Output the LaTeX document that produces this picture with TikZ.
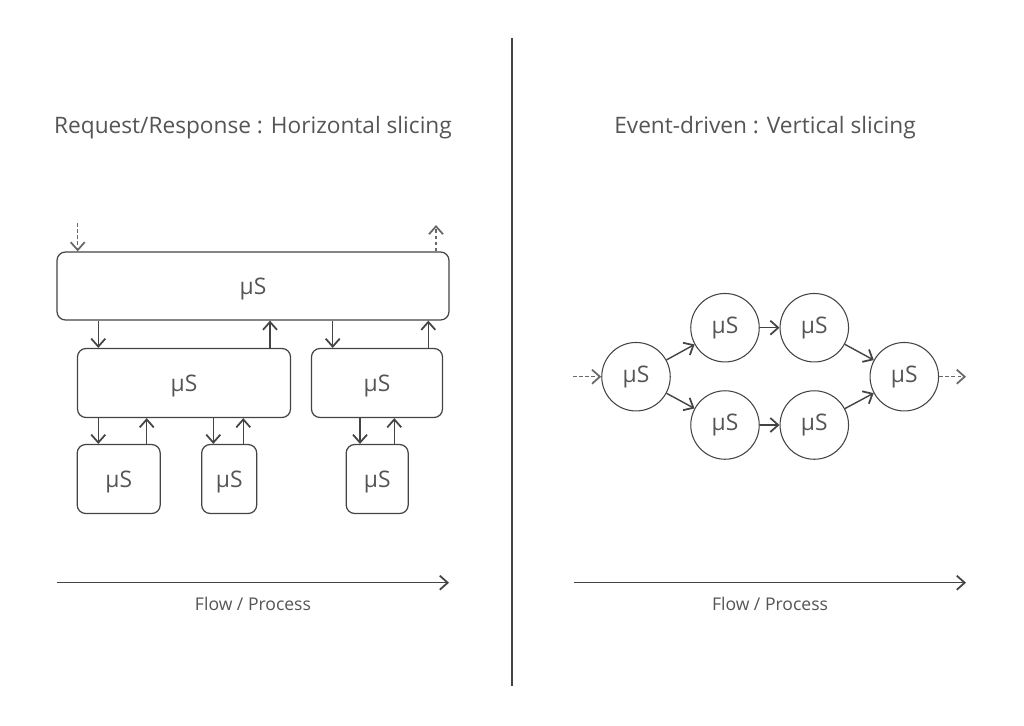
\documentclass[tikz,border=0pt]{standalone}
\usepackage{fontspec}
\setmainfont{Open Sans}
\usetikzlibrary{arrows.meta}
\definecolor{ln}{HTML}{444444}
\definecolor{tx}{HTML}{555555}
\begin{document}
\begin{tikzpicture}[x=0.02cm,y=-0.02cm,
  box/.style={draw=ln,line width=0.7pt,rounded corners=0.17cm,inner sep=0pt,text=tx,font=\fontsize{13}{14}\selectfont,text depth=-1pt},
  circ/.style={draw=ln,line width=0.6pt,circle,minimum size=1.37cm,inner sep=0pt,text=tx,font=\fontsize{13}{14}\selectfont},
  arr/.style={draw=ln,line width=0.8pt,-{Straight Barb[length=4.5pt,width=8pt,line width=1pt]}},
  darr/.style={draw=ln!80,line width=0.6pt,dashed,dash pattern=on 2pt off 1.5pt,-{Straight Barb[length=4.5pt,width=8pt,line width=1pt]}},
  title/.style={text=tx,font=\fontsize{12.9}{16}\selectfont},
  flow/.style={text=tx,font=\fontsize{10}{12}\selectfont}]
\useasboundingbox (0,0) rectangle (1024,725);
\fill[white] (0,0) rectangle (1024,725);
% divider
\draw[ln,line width=0.7pt] (512,38) coordinate (d1) -- (512,686) coordinate (d2);
% titles
\node[title] (t1) at (253,128) {Request/Response : Horizontal slicing};
\node[title] (t2) at (765,128) {Event-driven : Vertical slicing};
% left boxes
\node[box,minimum width=392*0.02cm,minimum height=68*0.02cm] (top) at (253,286) {μS};
\node[box,minimum width=213*0.02cm,minimum height=69*0.02cm] (ml) at (184,383) {μS};
\node[box,minimum width=131*0.02cm,minimum height=69*0.02cm] (mr) at (377,383) {μS};
\node[box,minimum width=83*0.02cm,minimum height=69*0.02cm] (b1) at (118.7,479) {μS};
\node[box,minimum width=55*0.02cm,minimum height=69*0.02cm] (b2) at (229.2,479) {μS};
\node[box,minimum width=62*0.02cm,minimum height=69*0.02cm] (b3) at (377.2,479) {μS};
\coordinate (xin) at (77.7,223);
\coordinate (xout) at (436,225);
\coordinate (xa) at (98.3,0);
\coordinate (xb) at (270,0);
\coordinate (xc) at (332.7,0);
\coordinate (xd) at (428.3,0);
\coordinate (xe) at (146.7,0);
\coordinate (xf) at (213.3,0);
\coordinate (xg) at (243.3,0);
\coordinate (xh) at (360,0);
\coordinate (xi) at (394.3,0);
\draw[darr] (xin) -- (top.north -| xin);
\draw[darr] (top.north -| xout) -- (xout);
\draw[arr] (top.south -| xa) -- (ml.north -| xa);
\draw[arr] (ml.north -| xb) -- (top.south -| xb);
\draw[arr] (top.south -| xc) -- (mr.north -| xc);
\draw[arr] (mr.north -| xd) -- (top.south -| xd);
\draw[arr] (ml.south -| xa) -- (b1.north -| xa);
\draw[arr] (b1.north -| xe) -- (ml.south -| xe);
\draw[arr] (ml.south -| xf) -- (b2.north -| xf);
\draw[arr] (b2.north -| xg) -- (ml.south -| xg);
\draw[arr] (mr.south -| xh) -- (b3.north -| xh);
\draw[arr] (b3.north -| xi) -- (mr.south -| xi);
% right circles
\node[circ] (c1) at (636,376.7) {μS};
\node[circ] (c2) at (725,327.7) {μS};
\node[circ] (c3) at (814.3,327.7) {μS};
\node[circ] (c4) at (725,425) {μS};
\node[circ] (c5) at (814.3,425) {μS};
\node[circ] (c6) at (904.3,376.7) {μS};
\coordinate (rin) at (573,376.7);
\coordinate (rout) at (966,376.7);
\draw[darr] (rin) -- (c1);
\draw[darr] (c6) -- (rout);
\draw[arr] (c1) -- (c2);
\draw[arr] (c1) -- (c4);
\draw[arr] (c2) -- (c3);
\draw[arr] (c4) -- (c5);
\draw[arr] (c3) -- (c6);
\draw[arr] (c5) -- (c6);
% flow arrows
\coordinate (f1a) at (56.7,582.7);
\coordinate (f1b) at (449,582.7);
\coordinate (f2a) at (574,582.7);
\coordinate (f2b) at (966,582.7);
\draw[arr] (f1a) -- (f1b);
\draw[arr] (f2a) -- (f2b);
\node[flow] (l1) at (253,604) {Flow / Process};
\node[flow] (l2) at (770,604) {Flow / Process};
\end{tikzpicture}
\end{document}
